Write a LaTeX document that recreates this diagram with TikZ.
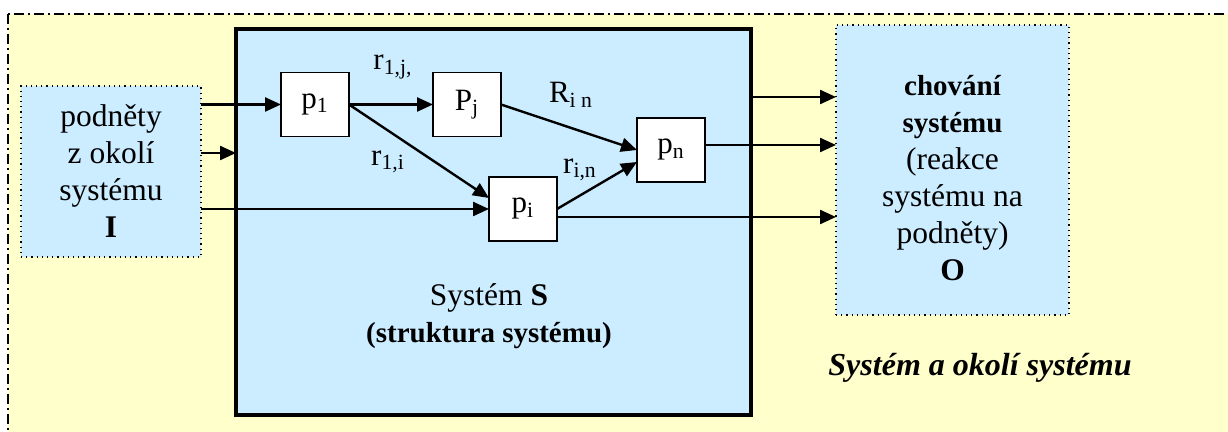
\documentclass[tikz,border=0pt]{standalone}
\usepackage{fontspec}
\setmainfont{Liberation Serif}
\usepackage{tikz}
\usetikzlibrary{positioning, arrows.meta}
\definecolor{envyellow}{RGB}{255,255,204}
\definecolor{sysblue}{RGB}{204,236,255}
\newcommand{\bsm}[1]{{\fontsize{14.5}{18}\selectfont\bfseries #1}}
\tikzset{
  proc/.style={draw, fill=white, line width=0.9pt, inner sep=0pt, outer sep=0pt,
    minimum width=34pt, minimum height=32pt, font=\fontsize{15.5}{18}\selectfont},
  iobox/.style={draw, dotted, line width=0.6pt, fill=sysblue, inner sep=0pt, outer sep=0pt},
  arr/.style={line width=1.2pt, -{Triangle[length=8pt, width=7pt]}},
  lbl/.style={font=\fontsize{15.5}{18}\selectfont, inner sep=0pt},
  txt/.style={align=center, inner sep=0pt, font=\fontsize{15.75}{18.5}\selectfont}
}
\begin{document}
\begin{tikzpicture}[x=0.5pt, y=-0.5pt]
    \clip (0,0) rectangle (1228,432);
    % Environment
    \draw[fill=envyellow, line width=0.7pt, dash pattern=on 5pt off 2pt on 1pt off 2pt]
        (8,14) rectangle (1260,460);

    % System
    \node[draw, fill=sysblue, line width=2pt, inner sep=0pt, outer sep=0pt,
        minimum width=257.5pt, minimum height=193pt] (sys) at (493.5,222) {};
    \node[txt] (syslbl) at (489,316) {Systém \textbf{S}\\\bsm{(struktura systému)}};

    % Inputs and outputs
    \node[iobox, minimum width=90pt, minimum height=85.5pt, txt] (inbox) at (111,171.5)
        {podněty\\z okolí\\systému\\\textbf{I}};
    \node[iobox, minimum width=116.5pt, minimum height=145pt] (obox) at (952.5,170) {};
    \node[txt, fill=none] (olbl) at (952.5,178) {\bsm{chování}\\\bsm{systému}\\(reakce\\systému na\\podněty)\\\textbf{O}};

    % Processes
    \node[proc] (p1) at (315,104.5) {p\textsubscript{1}};
    \node[proc] (pj) at (467,104.5) {P\textsubscript{j}};
    \node[proc] (pi) at (523,209) {p\textsubscript{i}};
    \node[proc] (pn) at (671,150) {p\textsubscript{n}};

    % Relations
    \draw[arr] (inbox.east |- p1.west) -- (p1.west);
    \coordinate (in2) at ([yshift=9.25pt]inbox.east);
    \draw[arr] (in2) -- (in2 -| sys.west);
    \draw[arr] (inbox.east |- pi.west) -- (pi.west);
    \draw[arr] (p1.east) -- (pj.west);
    \draw[arr] (p1.east) -- ([yshift=5.5pt]pi.west);
    \draw[arr] (pj.east) -- (pn.west);
    \draw[arr] (pi.east) -- ([yshift=-6pt]pn.west);
    \coordinate (o1) at ([yshift=62.5pt]sys.east);
    \draw[arr] (o1) -- (o1 -| obox.west);
    \coordinate (o2) at ([yshift=2.5pt]pn.east);
    \draw[arr] (o2) -- (o2 -| obox.west);
    \coordinate (o3) at ([yshift=-4pt]pi.east);
    \draw[arr] (o3) -- (o3 -| obox.west);

    % Labels
    \node[lbl] (r1j) at (393,67) {r\textsubscript{1,j,}};
    \node[lbl] (rin) at (571,95) {R\textsubscript{i n}};
    \node[lbl] (r1i) at (388,162) {r\textsubscript{1,i}};
    \node[lbl] (rin2) at (580,170) {r\textsubscript{i,n}};

    \node[txt, font=\fontsize{16}{18.5}\selectfont\bfseries\itshape] (caption) at (980,368)
        {Systém a okolí systému};
\end{tikzpicture}
\end{document}
